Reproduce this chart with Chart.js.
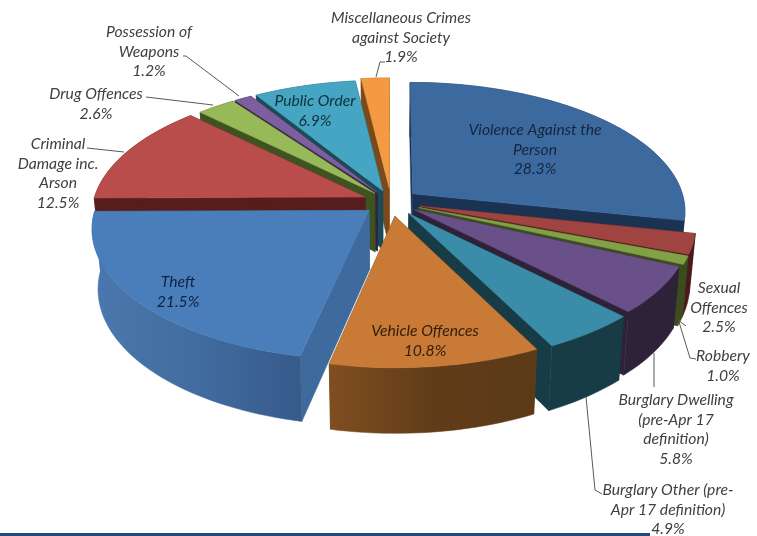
<!DOCTYPE html>
<html>
<head>
<meta charset="utf-8">
<title>Crime types</title>
<script src="https://cdn.jsdelivr.net/npm/chart.js@4"></script>
<style>
  body { margin: 0; background: #fff; }
  #wrap { position: relative; width: 757px; height: 536px; overflow: hidden; }
  #barra { position: absolute; left: 0; top: 533px; width: 650px; height: 3px; background: #1f497d; }
</style>
</head>
<body>
<div id="wrap">
  <canvas id="graf" width="757" height="536"></canvas>
  <div id="barra"></div>
</div>
<script>
// --- DATA ---
const categorias = [
  "Violence Against the Person", "Sexual Offences", "Robbery",
  "Burglary Dwelling (pre-Apr 17 definition)", "Burglary Other (pre-Apr 17 definition)",
  "Vehicle Offences", "Theft", "Criminal Damage inc. Arson", "Drug Offences",
  "Possession of Weapons", "Public Order", "Miscellaneous Crimes against Society"
];
const valores = [28.3, 2.5, 1.0, 5.8, 4.9, 10.8, 21.5, 12.5, 2.6, 1.2, 6.9, 1.9];

// --- STYLE ---
const separacion = [28, 30, 30, 28, 30, 30, 28, 28, 25, 25, 25, 30];
const colorTapa = ["#3d6a9e", "#a04442", "#82a046", "#6a5088", "#3a8ca8", "#c87a36",
                   "#4a7ebb", "#b94d4b", "#98b957", "#7d5fa0", "#45a5c2", "#f39a43"];
const colorPared = ["#1a3352", "#4a1a1a", "#3c4c20", "#2e2238", "#173c46", "#64401c",
                    "#3d6596", "#571c1c", "#3f5320", "#2e2440", "#1d4a58", "#7a4a1c"];
const colorLado = ["#1a3352", "#4a1a1a", "#3c4c20", "#2e2238", "#173c46", "#64401c",
                   "#3f6a9d", "#571c1c", "#3f5320", "#2e2440", "#1d4a58", "#7a4a1c"];
// paredes con degradado horizontal (izquierda, centro, derecha)
const degradados = {
  5: ["#7f4e20", "#613c19", "#5c3a18"],
  6: ["#4a77ad", "#416c9f", "#375a8a"]
};

// orden de pintado, de atras hacia adelante
const ordenPintado = [11, 10, 9, 8, 7, 0, 1, 2, 3, 4, 6, 5];

// texto de cada etiqueta: lineas, centro x, y de la primera linea
const etiquetas = [
  { l: ["Violence Against the", "Person"], x: 535, y: 130, c: "#14253f" },
  { l: ["Sexual", "Offences"], x: 719, y: 288, c: "#404040" },
  { l: ["Robbery"], x: 723, y: 356, c: "#404040" },
  { l: ["Burglary Dwelling", "(pre-Apr 17", "definition)"], x: 676, y: 400, c: "#404040" },
  { l: ["Burglary Other (pre-", "Apr 17 definition)"], x: 668, y: 490, c: "#404040" },
  { l: ["Vehicle Offences"], x: 425, y: 331, c: "#33200c" },
  { l: ["Theft"], x: 178, y: 282, c: "#0f2240" },
  { l: ["Criminal", "Damage inc.", "Arson"], x: 58, y: 144, c: "#404040" },
  { l: ["Drug Offences"], x: 96, y: 94, c: "#404040" },
  { l: ["Possession of", "Weapons"], x: 149, y: 32, c: "#404040" },
  { l: ["Public Order"], x: 315, y: 101, c: "#12303c" },
  { l: ["Miscellaneous Crimes", "against Society"], x: 401, y: 18, c: "#404040" }
];
const guias = [
  [[183, 56], [186, 56], [239, 96]],
  [[146, 97], [213, 105]],
  [[87, 148], [124, 152]],
  [[385, 62], [380, 62], [376, 77]],
  [[678, 320], [686, 326]],
  [[679, 322], [690, 358], [696, 359]],
  [[654, 353], [654, 387]],
  [[586, 397], [595, 490], [602, 494]]
];

// --- PROYECCION ---
const cx = 391, cy = 202;
const radio = 272;     // radio en pantalla de la tapa
const aplaste = 0.47;  // achatamiento vertical
const persp = 0.13;    // lo de adelante se ve mas grande
const alto = 59;       // altura del pastel
const fondo = 0.98;    // la base converge un poco

function proyectar(X, Y, abajo) {
  const w = 1 / (1 - persp * Y / radio);
  const q = abajo ? fondo : 1;
  return [cx + X * w * q, cy + Y * aplaste * w * q + (abajo ? alto * w : 0)];
}

function poligono(ctx, puntos, relleno) {
  ctx.beginPath();
  puntos.forEach((p, i) => i ? ctx.lineTo(p[0], p[1]) : ctx.moveTo(p[0], p[1]));
  ctx.closePath();
  ctx.fillStyle = relleno;
  ctx.strokeStyle = relleno;
  ctx.lineWidth = 0.5;
  ctx.fill();
  ctx.stroke();
}

function rellenoPared(ctx, i, base) {
  if (!degradados[i]) return colorPared[i];
  const xs = base.map(p => p[0]);
  const g = ctx.createLinearGradient(Math.min(...xs), 0, Math.max(...xs), 0);
  degradados[i].forEach((c, n) => g.addColorStop(n / 2, c));
  return g;
}

// --- DIBUJO 3D a partir de los arcos que calcula Chart.js ---
const pastel3d = {
  id: "pastel3d",
  beforeDatasetsDraw(chart) {
    const ctx = chart.ctx;
    const arcos = chart.getDatasetMeta(0).data;
    ordenPintado.forEach(i => {
      const arco = arcos[i];
      const medio = (arco.startAngle + arco.endAngle) / 2;
      const d = arco.options.offset;
      const ox = d * Math.cos(medio), oy = d * Math.sin(medio);
      const borde = [];
      const pasos = Math.max(2, Math.ceil((arco.endAngle - arco.startAngle) / 0.03));
      for (let n = 0; n <= pasos; n++) {
        const a = arco.startAngle + (arco.endAngle - arco.startAngle) * n / pasos;
        borde.push([ox + radio * Math.cos(a), oy + radio * Math.sin(a)]);
      }
      const arriba = borde.map(p => proyectar(p[0], p[1], false));
      const base = borde.map(p => proyectar(p[0], p[1], true));
      const c1 = proyectar(ox, oy, false), c2 = proyectar(ox, oy, true);
      const ultimo = borde.length - 1;

      poligono(ctx, [c1, arriba[0], base[0], c2], colorLado[i]);
      poligono(ctx, [c1, arriba[ultimo], base[ultimo], c2], colorLado[i]);
      poligono(ctx, arriba.concat(base.slice().reverse()), rellenoPared(ctx, i, base));
      poligono(ctx, [c1].concat(arriba), colorTapa[i]);
    });
    return false; // el arco plano no se dibuja
  },
  afterDraw(chart) {
    const ctx = chart.ctx;
    ctx.save();
    ctx.strokeStyle = "#595959";
    ctx.lineWidth = 1;
    guias.forEach(g => {
      ctx.beginPath();
      g.forEach((p, i) => i ? ctx.lineTo(p[0], p[1]) : ctx.moveTo(p[0], p[1]));
      ctx.stroke();
    });
    ctx.font = "italic 15.7px Lato";
    ctx.textAlign = "center";
    ctx.textBaseline = "middle";
    etiquetas.forEach((e, i) => {
      ctx.fillStyle = e.c;
      const lineas = e.l.concat(valores[i].toFixed(1) + "%");
      lineas.forEach((t, n) => ctx.fillText(t, e.x, e.y + n * 19.5));
    });
    ctx.restore();
  }
};

new Chart(document.getElementById("graf"), {
  type: "pie",
  data: {
    labels: categorias,
    datasets: [{
      data: valores,
      backgroundColor: colorTapa,
      offset: separacion,
      borderWidth: 0
    }]
  },
  options: {
    responsive: false,
    animation: false,
    plugins: { legend: { display: false }, tooltip: { enabled: false } }
  },
  plugins: [pastel3d]
});
</script>
</body>
</html>
